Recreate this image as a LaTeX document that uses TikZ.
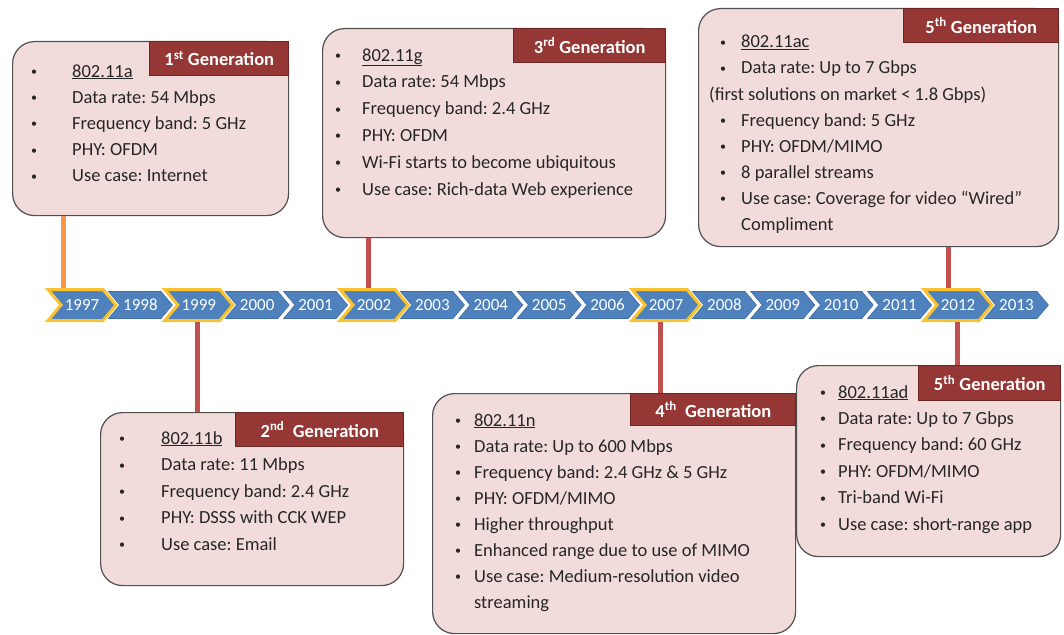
\documentclass[tikz,border=0pt]{standalone}
\usepackage{fontspec}
\setmainfont{Carlito}
\usetikzlibrary{shapes.symbols}
\definecolor{boxfill}{HTML}{F2DCDB}
\definecolor{boxline}{HTML}{505050}
\definecolor{genred}{HTML}{953735}
\definecolor{genline}{HTML}{6E2624}
\definecolor{connred}{HTML}{C0504D}
\definecolor{connorange}{HTML}{F79646}
\definecolor{chevblue}{HTML}{4F81BD}
\definecolor{chevedge}{HTML}{3F6FA8}
\definecolor{chevgold}{HTML}{F9C22E}
\newcommand\blt{\raisebox{1.5pt}{\fontsize{12}{12}\selectfont•}}
\begin{document}
\frenchspacing
\begin{tikzpicture}[x=1pt,y=-1pt,
  box/.style={draw=boxline, line width=1.2pt, fill=boxfill, rounded corners=22pt, anchor=north west, inner sep=0pt},
  gen/.style={draw=genline, line width=0.8pt, fill=genred, text=white, anchor=north east, inner sep=0pt,
              font=\fontsize{18.5}{22}\selectfont\bfseries},
  txt/.style={anchor=base west, inner sep=0pt, font=\fontsize{18.5}{22}\selectfont, text=black!85},
  bul/.style={txt},
  chev/.style={signal, signal from=west, signal to=east, signal pointer angle=100,
               minimum width=64pt, minimum height=27pt, inner sep=0pt, fill=chevblue, draw=chevedge,
               line width=0.6pt, text=white, font=\fontsize{17}{19}\selectfont},
  chevhi/.style={chev, minimum width=68pt, minimum height=31pt, draw=chevgold, line width=3pt},
  conn/.style={line width=5pt, connred},
]
\useasboundingbox (0,0) rectangle (1064,634);
\fill[white] (0,0) rectangle (1064,634);

% ---------- timeline ----------
\foreach \yr in {1998,2000,2001,2003,2004,2005,2006,2008,2009,2010,2011,2013}{
  \pgfmathsetmacro\cx{82+58.4*(\yr-1997)}
  \node[chev] (y\yr) at (\cx,305) {\yr};
}
\foreach \yr in {1997,1999,2002,2007,2012}{
  \pgfmathsetmacro\cx{82+58.4*(\yr-1997)}
  \node[chevhi] (y\yr) at (\cx,305) {\yr};
}

% ---------- boxes ----------
\node[box, minimum width=276pt, minimum height=174pt] (b1) at (12,41) {};
\node[gen, minimum width=139pt, minimum height=34pt] (g1) at (b1.north east) {1\textsuperscript{st} Generation};

\node[box, minimum width=303pt, minimum height=173pt] (b2) at (100,412) {};
\node[gen, minimum width=168pt, minimum height=34pt] (g2) at (b2.north east) {2\textsuperscript{nd}\ \ Generation};

\node[box, minimum width=343pt, minimum height=209pt] (b3) at (322,28) {};
\node[gen, minimum width=152pt, minimum height=34pt] (g3) at (b3.north east) {3\textsuperscript{rd} Generation};

\node[box, minimum width=363pt, minimum height=240pt] (b4) at (432,393) {};
\node[gen, minimum width=165pt, minimum height=32pt] (g4) at (b4.north east) {4\textsuperscript{th}\ \ Generation};

\node[box, minimum width=360pt, minimum height=238pt] (b5) at (698,8) {};
\node[gen, minimum width=155pt, minimum height=34pt] (g5) at (b5.north east) {5\textsuperscript{th} Generation};

\node[box, minimum width=264pt, minimum height=191pt] (b6) at (796,365) {};
\node[gen, minimum width=142pt, minimum height=35pt] (g6) at (b6.north east) {5\textsuperscript{th} Generation};

% ---------- connectors ----------
\draw[conn, connorange] ([xshift=51pt]b1.south west) -- ([xshift=51pt]b1.south west |- y1997.north);
\draw[conn] ([xshift=97pt]b2.north west) -- ([xshift=97pt]b2.north west |- y1999.south);
\draw[conn] ([xshift=46pt]b3.south west) -- ([xshift=46pt]b3.south west |- y2002.north);
\draw[conn] ([xshift=228pt]b4.north west) -- ([xshift=228pt]b4.north west |- y2007.south);
\draw[conn] ([xshift=250pt]b5.south west) -- ([xshift=250pt]b5.south west |- y2012.north);
\draw[conn] ([xshift=161pt]b6.north west) -- ([xshift=161pt]b6.north west |- y2012.south);

% ---------- box 1 text ----------
\foreach \t [count=\i] in {\underline{802.11a},Data rate: 54 Mbps,Frequency band: 5 GHz,PHY: OFDM,Use case: Internet}{
  \pgfmathsetmacro\by{77+26.2*(\i-1)}
  \node[bul] (b1d\i) at (31,\by) {\blt};
  \node[txt] (b1t\i) at (72,\by) {\t};
}
% ---------- box 2 text ----------
\foreach \t [count=\i] in {\underline{802.11b},Data rate: 11 Mbps,Frequency band: 2.4 GHz,PHY: DSSS with CCK WEP,Use case: Email}{
  \pgfmathsetmacro\by{444+26.6*(\i-1)}
  \node[bul] (b2d\i) at (119,\by) {\blt};
  \node[txt] (b2t\i) at (161,\by) {\t};
}
% ---------- box 3 text ----------
\foreach \t [count=\i] in {\underline{802.11g},Data rate: 54 Mbps,Frequency band: 2.4 GHz,PHY: OFDM,Wi-Fi starts to become ubiquitous,Use case: Rich-data Web experience}{
  \pgfmathsetmacro\by{61+26.8*(\i-1)}
  \node[bul] (b3d\i) at (335,\by) {\blt};
  \node[txt] (b3t\i) at (362,\by) {\t};
}
% ---------- box 4 text ----------
\foreach \t [count=\i] in {\underline{802.11n},Data rate: Up to 600 Mbps,Frequency band: 2.4 GHz \& 5 GHz,PHY: OFDM/MIMO,Higher throughput,Enhanced range due to use of MIMO,Use case: Medium-resolution video}{
  \pgfmathsetmacro\by{426+26*(\i-1)}
  \node[bul] (b4d\i) at (455,\by) {\blt};
  \node[txt] (b4t\i) at (474,\by) {\t};
}
\node[txt] (b4t8) at (474,608) {streaming};
% ---------- box 5 text ----------
\node[bul] (b5d1) at (720,48) {\blt};
\node[txt] (b5t1) at (741,48) {\underline{802.11ac}};
\node[bul] (b5d2) at (720,74) {\blt};
\node[txt] (b5t2) at (741,74) {Data rate: Up to 7 Gbps};
\node[txt] (b5t3) at (709,100) {(first solutions on market < 1.8 Gbps)};
\foreach \t [count=\i from 4] in {Frequency band: 5 GHz,PHY: OFDM/MIMO,8 parallel streams,Use case: Coverage for video “Wired”}{
  \pgfmathsetmacro\by{126+26*(\i-4)}
  \node[bul] (b5d\i) at (720,\by) {\blt};
  \node[txt] (b5t\i) at (741,\by) {\t};
}
\node[txt] (b5t8) at (741,230) {Compliment};
% ---------- box 6 text ----------
\foreach \t [count=\i] in {\underline{802.11ad},Data rate: Up to 7 Gbps,Frequency band: 60 GHz,PHY: OFDM/MIMO,Tri-band Wi-Fi,Use case: short-range app}{
  \pgfmathsetmacro\by{398+26.4*(\i-1)}
  \node[bul] (b6d\i) at (820,\by) {\blt};
  \node[txt] (b6t\i) at (838,\by) {\t};
}
\end{tikzpicture}
\end{document}
